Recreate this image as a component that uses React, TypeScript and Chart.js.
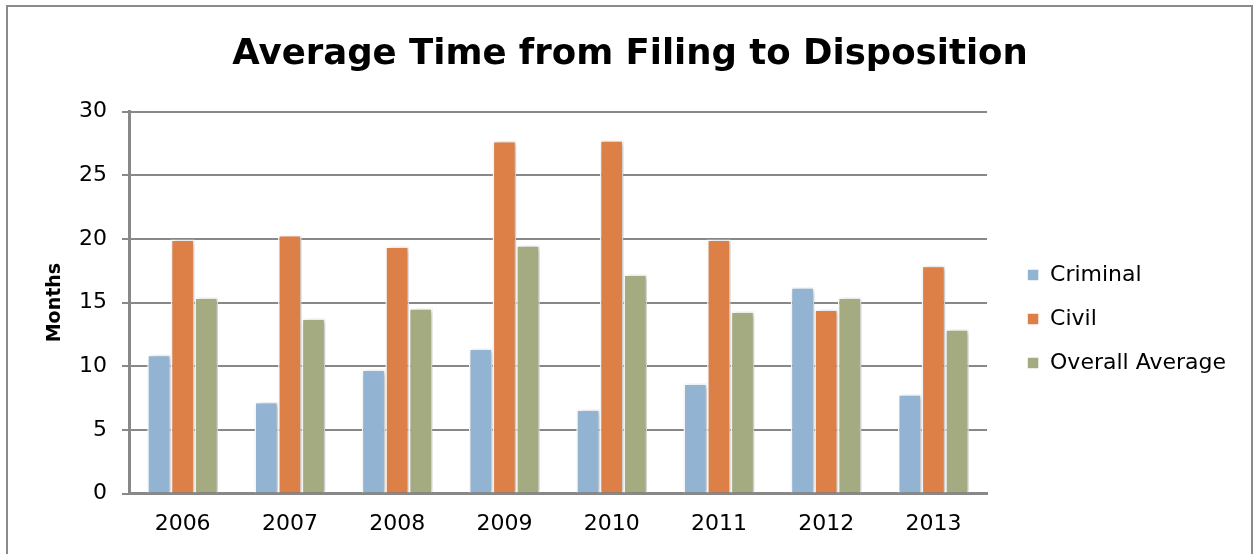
import React, { useEffect, useRef } from "react";
import { Chart, registerables } from "chart.js";

Chart.register(...registerables);

const categories = ["2006", "2007", "2008", "2009", "2010", "2011", "2012", "2013"];
const criminal = [10.9, 7.2, 9.75, 11.4, 6.6, 8.65, 16.2, 7.8];
const civil = [19.95, 20.3, 19.4, 27.7, 27.75, 19.95, 14.45, 17.9];
const overallAverage = [15.4, 13.75, 14.55, 19.5, 17.2, 14.3, 15.4, 12.9];
const seriesNames = ["Criminal", "Civil", "Overall Average"];
const seriesColors = ["#93B3D3", "#DD8047", "#A5AB81"];
const titleText = "Average Time from Filing to Disposition";
const yTitle = "Months";

const FONT = "'DejaVu Sans', sans-serif";

const shadowPlugin = {
  id: "barShadow",
  beforeDatasetsDraw(chart: any) {
    const ctx = chart.ctx;
    ctx.save();
    ctx.shadowColor = "rgba(0,0,0,0.28)";
    ctx.shadowBlur = 5;
    ctx.shadowOffsetX = 2;
    ctx.shadowOffsetY = 1;
  },
  afterDatasetsDraw(chart: any) {
    chart.ctx.restore();
  },
};

const legendShiftPlugin = {
  id: "legendShift",
  afterLayout(chart: any) {
    const lg = chart.legend;
    if (!lg) return;
    lg.top += 42;
    lg.bottom += 42;
    lg.left += 18;
    lg.right += 18;
  },
};

export default function App() {
  const ref = useRef<HTMLCanvasElement | null>(null);
  useEffect(() => {
    if (!ref.current) return;
    const data = [criminal, civil, overallAverage];
    const chart = new Chart(ref.current, {
      type: "bar",
      data: {
        labels: categories,
        datasets: seriesNames.map((n, i) => ({
          label: n,
          data: data[i],
          backgroundColor: seriesColors[i],
          borderColor: "#ffffff",
          borderWidth: 1.5,
          barPercentage: 1,
          categoryPercentage: 0.66,
        })),
      },
      options: {
        animation: false,
        responsive: false,
        maintainAspectRatio: false,
        layout: { padding: { left: 42, right: 36, top: 0, bottom: 0 } },
        plugins: {
          title: {
            display: true,
            text: titleText,
            color: "#000",
            font: { family: FONT, size: 35.5, weight: "bold" },
            padding: { top: 33, bottom: 36 },
          },
          legend: {
            position: "right",
            align: "center",
            labels: {
              boxWidth: 12,
              boxHeight: 12,
              padding: 22,
              color: "#000",
              font: { family: FONT, size: 22 },
            },
          },
          tooltip: { enabled: false },
        },
        scales: {
          x: {
            grid: { display: false, drawTicks: false },
            border: { display: true, color: "#888888", width: 3 },
            ticks: { color: "#000", font: { family: FONT, size: 22 }, padding: 17 },
          },
          y: {
            min: 0,
            max: 30,
            ticks: { stepSize: 5, color: "#000", font: { family: FONT, size: 22 }, padding: 15 },
            grid: { color: "#888888", lineWidth: 2, tickLength: 7, drawTicks: true },
            border: { display: true, color: "#888888", width: 3 },
            title: {
              display: true,
              text: yTitle,
              color: "#000",
              font: { family: FONT, size: 19, weight: "bold" },
              padding: { top: 2, bottom: 0 },
            },
            afterFit(scale: any) {
              scale.width = 87;
            },
          },
        },
      },
      plugins: [shadowPlugin, legendShiftPlugin],
    } as any);
    return () => chart.destroy();
  }, []);
  return (
    <div style={{ position: "absolute", left: 0, top: 0, width: 1254, height: 554, background: "#fff" }}>
      <div
        style={{
          position: "absolute",
          left: 6,
          top: 5,
          width: 1243,
          height: 600,
          border: "2px solid #8a8a8a",
        }}
      />
      <canvas ref={ref} width={1254} height={554} style={{ position: "absolute", left: 0, top: 0 }} />
    </div>
  );
}
